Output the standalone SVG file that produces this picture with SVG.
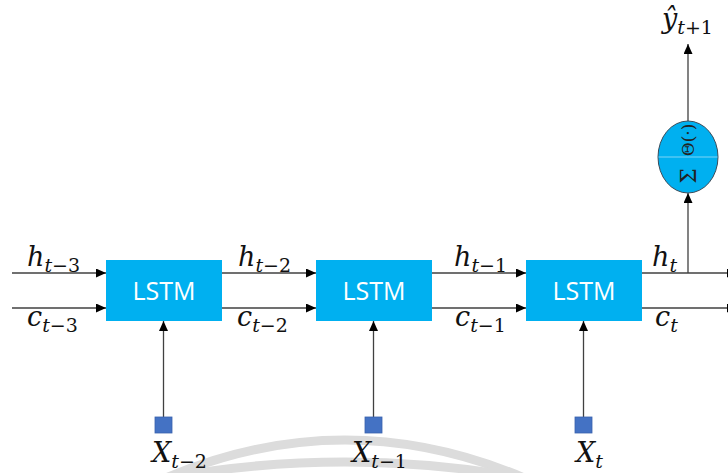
<svg xmlns="http://www.w3.org/2000/svg" width="728" height="473" viewBox="0 0 728 473">
  <defs>
    <marker id="arrow" markerUnits="userSpaceOnUse" markerWidth="10" markerHeight="10" refX="10" refY="4.5" orient="auto">
      <path d="M0,0 L10,4.5 L0,9 Z" fill="#000"/>
    </marker>
    <style>
      .wire { stroke: #404040; stroke-width: 1.3; fill: none; }
      .arc { stroke: #dcdcdc; stroke-width: 9; fill: none; }
      .cell { fill: #00b0f0; }
      .cell-label { font-family: "Open Sans", "Noto Sans", sans-serif; font-size: 25px; fill: #fff; text-anchor: middle; }
      .input { fill: #4472c4; stroke: #3a62ad; stroke-width: 0.8; }
      .math { font-family: "DejaVu Serif", "Liberation Serif", serif; fill: #111; }
      .var { font-size: 27px; font-style: italic; }
      .sub { font-size: 19px; }
      .it { font-style: italic; }
      .node-op { fill: #00b0f0; stroke: #3b4c5a; stroke-width: 1; }
      .op-text { font-family: "DejaVu Serif", "Liberation Serif", serif; font-size: 17px; fill: #222; text-anchor: middle; }
      .op-sum { font-size: 22px; }
    </style>
  </defs>

  <rect width="728" height="473" fill="#fff"/>

  <!-- faint background arcs -->
  <path class="arc" d="M150,485 Q345,395 540,485"/>
  <path class="arc" d="M100,492 Q345,432 590,492"/>

  <!-- connectors -->
  <g id="connectors">
    <!-- hidden state chain -->
    <line class="wire" x1="12" y1="273" x2="106" y2="273" marker-end="url(#arrow)"/>
    <line class="wire" x1="222" y1="273" x2="316" y2="273" marker-end="url(#arrow)"/>
    <line class="wire" x1="432" y1="273" x2="526" y2="273" marker-end="url(#arrow)"/>
    <line class="wire" x1="642" y1="273" x2="737" y2="273" marker-end="url(#arrow)"/>
    <!-- cell state chain -->
    <line class="wire" x1="12" y1="308" x2="106" y2="308" marker-end="url(#arrow)"/>
    <line class="wire" x1="222" y1="308" x2="316" y2="308" marker-end="url(#arrow)"/>
    <line class="wire" x1="432" y1="308" x2="526" y2="308" marker-end="url(#arrow)"/>
    <line class="wire" x1="642" y1="308" x2="737" y2="308" marker-end="url(#arrow)"/>
    <!-- inputs -->
    <line class="wire" x1="163.5" y1="417" x2="163.5" y2="321" marker-end="url(#arrow)"/>
    <line class="wire" x1="373.5" y1="417" x2="373.5" y2="321" marker-end="url(#arrow)"/>
    <line class="wire" x1="583.5" y1="417" x2="583.5" y2="321" marker-end="url(#arrow)"/>
    <!-- output head -->
    <line class="wire" x1="688" y1="273" x2="688" y2="193" marker-end="url(#arrow)"/>
    <line class="wire" x1="688" y1="121" x2="688" y2="44" marker-end="url(#arrow)"/>
  </g>

  <!-- LSTM cells -->
  <g id="lstm1">
    <rect class="cell" x="106" y="260" width="116" height="61"/>
    <text class="cell-label" x="164" y="300">LSTM</text>
  </g>
  <g id="lstm2">
    <rect class="cell" x="316" y="260" width="116" height="61"/>
    <text class="cell-label" x="374" y="300">LSTM</text>
  </g>
  <g id="lstm3">
    <rect class="cell" x="526" y="260" width="116" height="61"/>
    <text class="cell-label" x="584" y="300">LSTM</text>
  </g>

  <!-- output neuron -->
  <g id="output-node">
    <ellipse class="node-op" cx="688" cy="157" rx="30" ry="36"/>
    <line x1="658.5" y1="157" x2="717.5" y2="157" stroke="#7fd3f5" stroke-width="1.2"/>
    <text class="op-text" transform="translate(694,140) rotate(-90)">Θ(·)</text>
    <text class="op-text op-sum" transform="translate(696,176) rotate(-90)">Σ</text>
  </g>

  <!-- inputs -->
  <g id="x1">
    <rect class="input" x="155" y="417" width="17" height="16"/>
    <text class="math" x="152" y="462"><tspan class="var">X</tspan><tspan class="sub it" dy="6">t</tspan><tspan class="sub">−2</tspan></text>
  </g>
  <g id="x2">
    <rect class="input" x="365" y="417" width="17" height="16"/>
    <text class="math" x="352" y="462"><tspan class="var">X</tspan><tspan class="sub it" dy="6">t</tspan><tspan class="sub">−1</tspan></text>
  </g>
  <g id="x3">
    <rect class="input" x="575" y="417" width="17" height="16"/>
    <text class="math" x="576" y="462"><tspan class="var">X</tspan><tspan class="sub it" dy="6">t</tspan></text>
  </g>

  <!-- state labels -->
  <g id="labels">
    <text class="math" x="27" y="266"><tspan class="var">h</tspan><tspan class="sub it" dy="6">t</tspan><tspan class="sub">−3</tspan></text>
    <text class="math" x="27" y="326"><tspan class="var">c</tspan><tspan class="sub it" dy="6">t</tspan><tspan class="sub">−3</tspan></text>
    <text class="math" x="238" y="266"><tspan class="var">h</tspan><tspan class="sub it" dy="6">t</tspan><tspan class="sub">−2</tspan></text>
    <text class="math" x="237" y="326"><tspan class="var">c</tspan><tspan class="sub it" dy="6">t</tspan><tspan class="sub">−2</tspan></text>
    <text class="math" x="454" y="266"><tspan class="var">h</tspan><tspan class="sub it" dy="6">t</tspan><tspan class="sub">−1</tspan></text>
    <text class="math" x="455" y="326"><tspan class="var">c</tspan><tspan class="sub it" dy="6">t</tspan><tspan class="sub">−1</tspan></text>
    <text class="math" x="652" y="266"><tspan class="var">h</tspan><tspan class="sub it" dy="6">t</tspan></text>
    <text class="math" x="655" y="326"><tspan class="var">c</tspan><tspan class="sub it" dy="6">t</tspan></text>
    <text class="math" x="662" y="28"><tspan class="var">ŷ</tspan><tspan class="sub it" dy="6">t</tspan><tspan class="sub">+1</tspan></text>
  </g>
</svg>
